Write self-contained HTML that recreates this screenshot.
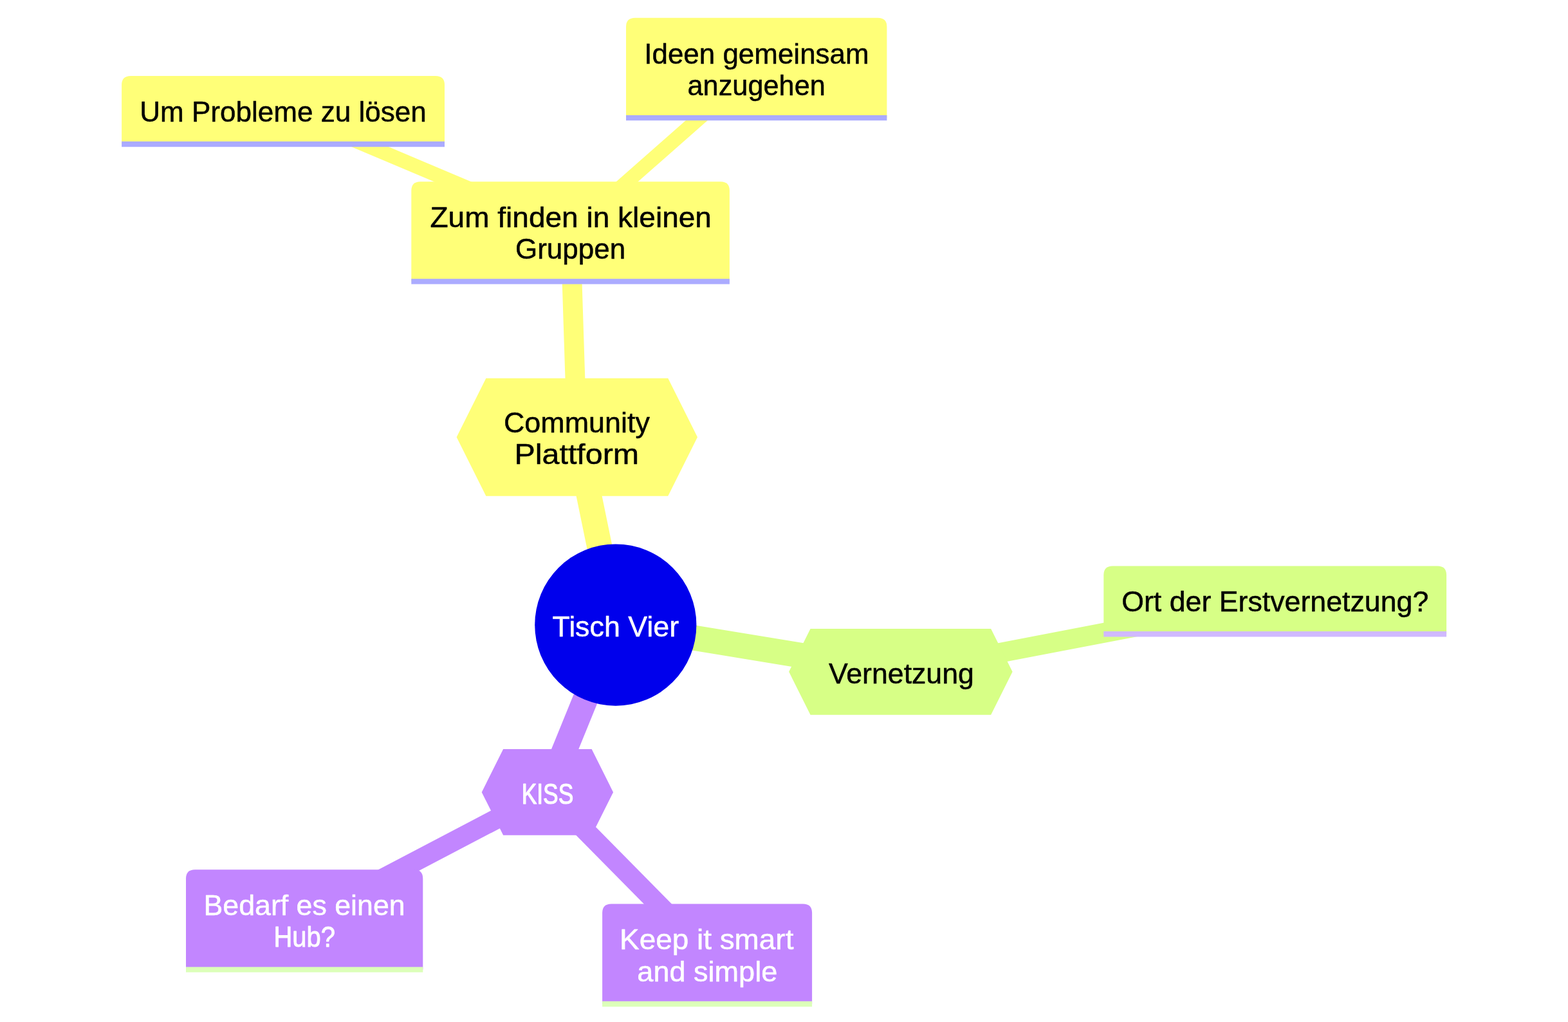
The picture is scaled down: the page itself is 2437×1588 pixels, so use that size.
<!DOCTYPE html>
<html lang="de">
<head>
<meta charset="utf-8">
<title>Mindmap – Tisch Vier</title>
<style>
  html, body { margin: 0; padding: 0; background: #ffffff; }
  body { width: 2437px; height: 1588px; overflow: hidden; }
  svg { display: block; will-change: transform; }
  .edge { fill: none; }
  .section-edge-0 { stroke: #ffff78; }
  .section-edge-1 { stroke: #d7ff86; }
  .section-edge-2 { stroke: #c286ff; }
  .edge-depth-0 { stroke-width: 39.2; }
  .edge-depth-1 { stroke-width: 30.8; }
  .edge-depth-2 { stroke-width: 22.4; }
  .section-root circle { fill: #0000ec; }
  .section-0 path, .section-0 polygon { fill: #ffff78; }
  .section-1 path, .section-1 polygon { fill: #d7ff86; }
  .section-2 path, .section-2 polygon { fill: #c286ff; }
  .mindmap-node line { stroke-width: 8.4; }
  .section-0 line { stroke: #ababff; }
  .section-1 line { stroke: #d0b9ff; }
  .section-2 line { stroke: #dcffb9; }
  text {
    font-family: "Liberation Sans", sans-serif;
    font-size: 44.5px;
    stroke-width: 0.5;
    stroke-linejoin: round;
  }
  .section-0 text, .section-1 text { fill: #000000; stroke: #000000; }
  .section-root text, .section-2 text { fill: #ffffff; stroke: #ffffff; }
</style>
</head>
<body>
<svg width="2437" height="1588" viewBox="0 0 2437 1588" role="img" aria-label="Mindmap: Tisch Vier">
<rect width="2437" height="1588" fill="#ffffff"/>
<g class="edges">
  <path class="edge section-edge-0 edge-depth-0" d="M956.8,971.05 L896.8,679.25"/>
  <path class="edge section-edge-0 edge-depth-1" d="M896.8,679.25 L886.6,359.8"/>
  <path class="edge section-edge-0 edge-depth-2" d="M886.6,359.8 L440.05,171"/>
  <path class="edge section-edge-0 edge-depth-2" d="M886.6,359.8 L1175.7,105.4"/>
  <path class="edge section-edge-1 edge-depth-0" d="M956.8,971.05 L1399.85,1043.85"/>
  <path class="edge section-edge-1 edge-depth-1" d="M1399.85,1043.85 L1981.7,932.4"/>
  <path class="edge section-edge-2 edge-depth-0" d="M956.8,971.05 L850.9,1230.9"/>
  <path class="edge section-edge-2 edge-depth-1" d="M850.9,1230.9 L473.15,1428.95"/>
  <path class="edge section-edge-2 edge-depth-1" d="M850.9,1230.9 L1099.1,1482.3"/>
</g>
<g class="nodes">
  <g class="mindmap-node section-root">
    <circle cx="956.8" cy="971.05" r="125.6"/>
    <text x="858.45" y="988.8" textLength="196.7" lengthAdjust="spacingAndGlyphs">Tisch Vier</text>
  </g>
  <g class="mindmap-node section-0">
    <polygon points="755.38,770.8 1038.22,770.8 1084,679.25 1038.22,587.7 755.38,587.7 709.6,679.25"/>
    <text x="782.95" y="671.8" textLength="227" lengthAdjust="spacingAndGlyphs">Community</text>
    <text x="799.55" y="720.7" textLength="193.6" lengthAdjust="spacingAndGlyphs">Plattform</text>
  </g>
  <g class="mindmap-node section-0">
    <path d="M639.3,423.4 V296.2 Q639.3,282.2 653.3,282.2 H1119.9 Q1133.9,282.2 1133.9,296.2 V437.4 H639.3 Z"/>
    <line x1="639.3" y1="437.4" x2="1133.9" y2="437.4"/>
    <text x="668.45" y="352.84" textLength="437.5" lengthAdjust="spacingAndGlyphs">Zum finden in kleinen</text>
    <text x="801" y="401.7" textLength="171.15" lengthAdjust="spacingAndGlyphs">Gruppen</text>
  </g>
  <g class="mindmap-node section-0">
    <path d="M189.1,210 V132 Q189.1,118 203.1,118 H677 Q691,118 691,132 V224 H189.1 Z"/>
    <line x1="189.1" y1="224" x2="691" y2="224"/>
    <text x="217.2" y="188.64" textLength="445.7" lengthAdjust="spacingAndGlyphs">Um Probleme zu lösen</text>
  </g>
  <g class="mindmap-node section-0">
    <path d="M973,169.1 V41.7 Q973,27.7 987,27.7 H1364.4 Q1378.4,27.7 1378.4,41.7 V183.1 H973 Z"/>
    <line x1="973" y1="183.1" x2="1378.4" y2="183.1"/>
    <text x="1001.25" y="98.8" textLength="349.35" lengthAdjust="spacingAndGlyphs">Ideen gemeinsam</text>
    <text x="1068.5" y="147.7" textLength="214.3" lengthAdjust="spacingAndGlyphs">anzugehen</text>
  </g>
  <g class="mindmap-node section-1">
    <polygon points="1259.57,1110.8 1540.12,1110.8 1573.6,1043.85 1540.12,976.9 1259.57,976.9 1226.1,1043.85"/>
    <text x="1287.95" y="1061.65" textLength="225.95" lengthAdjust="spacingAndGlyphs">Vernetzung</text>
  </g>
  <g class="mindmap-node section-1">
    <path d="M1715.3,971.3 V893.5 Q1715.3,879.5 1729.3,879.5 H2234.1 Q2248.1,879.5 2248.1,893.5 V985.3 H1715.3 Z"/>
    <line x1="1715.3" y1="985.3" x2="2248.1" y2="985.3"/>
    <text x="1743.15" y="949.9" textLength="477.2" lengthAdjust="spacingAndGlyphs">Ort der Erstvernetzung?</text>
  </g>
  <g class="mindmap-node section-2">
    <polygon points="782.15,1297.8 919.65,1297.8 953.1,1230.9 919.65,1164 782.15,1164 748.7,1230.9"/>
    <text x="810.65" y="1248.9" textLength="80.6" lengthAdjust="spacingAndGlyphs" style="stroke-width:1.2">KISS</text>
  </g>
  <g class="mindmap-node section-2">
    <path d="M289,1492.6 V1365.3 Q289,1351.3 303,1351.3 H643.3 Q657.3,1351.3 657.3,1365.3 V1506.6 H289 Z"/>
    <line x1="289" y1="1506.6" x2="657.3" y2="1506.6"/>
    <text x="316.5" y="1422" textLength="313.1" lengthAdjust="spacingAndGlyphs">Bedarf es einen</text>
    <text x="425.45" y="1471" textLength="95.45" lengthAdjust="spacingAndGlyphs" style="stroke-width:0.9">Hub?</text>
  </g>
  <g class="mindmap-node section-2">
    <path d="M936.1,1546 V1418.6 Q936.1,1404.6 950.1,1404.6 H1248.1 Q1262.1,1404.6 1262.1,1418.6 V1560 H936.1 Z"/>
    <line x1="936.1" y1="1560" x2="1262.1" y2="1560"/>
    <text x="963.05" y="1475.2" textLength="270.35" lengthAdjust="spacingAndGlyphs">Keep it smart</text>
    <text x="990.35" y="1524.8" textLength="217.85" lengthAdjust="spacingAndGlyphs">and simple</text>
  </g>
</g>
</svg>
</body>
</html>
